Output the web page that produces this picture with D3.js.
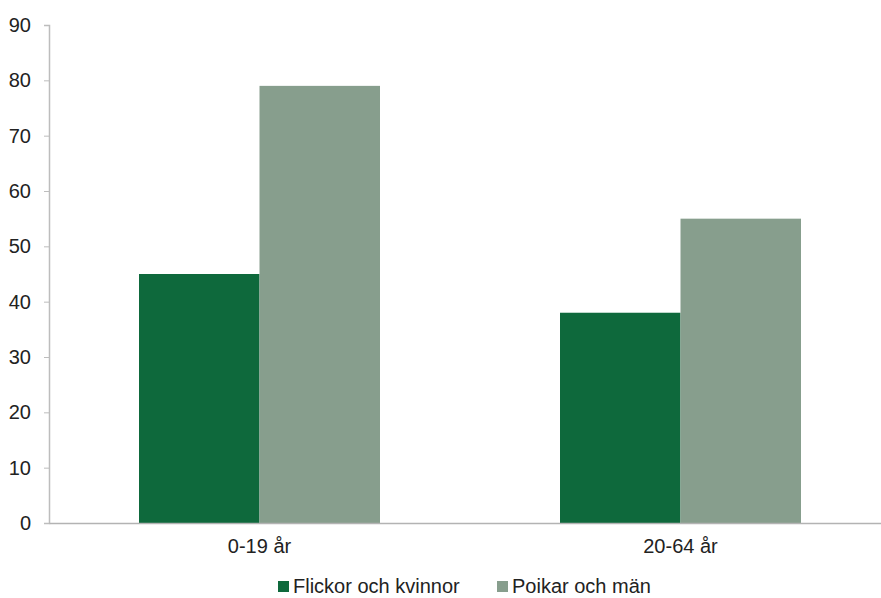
<!DOCTYPE html>
<html>
<head>
<meta charset="utf-8">
<script src="https://cdn.jsdelivr.net/npm/d3@7"></script>
<style>
  html, body { margin: 0; padding: 0; background: #fff; }
  svg { display: block; font-family: "Liberation Sans", Arial, sans-serif; }
</style>
</head>
<body>
<svg id="chart" width="881" height="598"></svg>
<script>
// Age groups and shares per gender
const categories = ["0-19 år", "20-64 år"];
const seriesNames = ["Flickor och kvinnor", "Poikar och män"];
const flickorKvinnor = [45, 38];
const poikarMan = [79, 55];
const yTicks = [0, 10, 20, 30, 40, 50, 60, 70, 80, 90];
const colors = ["#0e693c", "#879e8d"];

const svg = d3.select("#chart");
const margin = { left: 49, right: -10, top: 25, bottom: 75 };
const W = 881, H = 598;
const fontSize = 20;

const x0 = d3.scaleBand()
  .domain(categories)
  .range([margin.left, W - margin.right])
  .paddingInner(0)
  .paddingOuter(0);

const x1 = d3.scaleBand()
  .domain(seriesNames)
  .range([0, x0.bandwidth()])
  .paddingOuter(0.747)
  .paddingInner(0);

const y = d3.scaleLinear().domain([0, 90]).range([H - margin.bottom, margin.top]);

const rows = categories.map((c, i) => ({
  cat: c,
  vals: [flickorKvinnor[i], poikarMan[i]]
}));

// bars
const g = svg.append("g");
rows.forEach(r => {
  r.vals.forEach((v, j) => {
    g.append("rect")
      .attr("x", x0(r.cat) + x1(seriesNames[j]))
      .attr("y", y(v))
      .attr("width", x1.bandwidth())
      .attr("height", y(0) - y(v))
      .attr("fill", colors[j]);
  });
});

// y axis
const yAxis = svg.append("g")
  .attr("transform", `translate(${margin.left},0)`)
  .call(d3.axisLeft(y).tickValues(yTicks).tickSize(5).tickPadding(13));
yAxis.select(".domain").attr("stroke", "#bdbdbd").attr("stroke-width", 1.5);
yAxis.selectAll(".tick line").attr("stroke", "#bdbdbd");
yAxis.selectAll(".tick text")
  .attr("font-size", fontSize)
  .attr("fill", "#222")
  .attr("font-family", "Liberation Sans, Arial, sans-serif");

// x axis
const xAxis = svg.append("g")
  .attr("transform", `translate(0,${y(0)})`)
  .call(d3.axisBottom(x0).tickSize(0).tickPadding(16));
xAxis.select(".domain").attr("stroke", "#b3b3b3").attr("stroke-width", 1.5);
xAxis.selectAll(".tick text")
  .attr("font-size", fontSize)
  .attr("fill", "#222")
  .attr("font-family", "Liberation Sans, Arial, sans-serif");

// legend
const legendX = [278, 497];
const legend = svg.append("g");
seriesNames.forEach((n, j) => {
  legend.append("rect")
    .attr("x", legendX[j]).attr("y", 581)
    .attr("width", 11).attr("height", 11)
    .attr("fill", colors[j]);
  legend.append("text")
    .attr("x", legendX[j] + 15).attr("y", 593)
    .attr("font-size", fontSize)
    .attr("fill", "#222")
    .text(n);
});
</script>
</body>
</html>
